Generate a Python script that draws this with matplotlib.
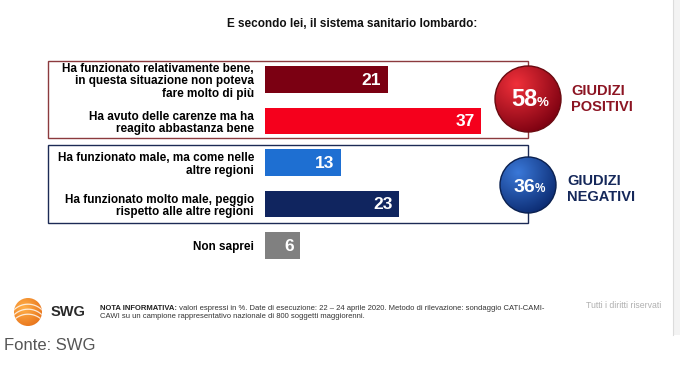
import numpy as np
import matplotlib
matplotlib.use("Agg")
import matplotlib.pyplot as plt
from matplotlib.patches import Circle, Rectangle
from matplotlib.colors import LinearSegmentedColormap

plt.rcParams["font.family"] = ["Liberation Sans", "DejaVu Sans"]

# dati
labels = [
    "Ha funzionato relativamente bene,\nin questa situazione non poteva\nfare molto di più",
    "Ha avuto delle carenze ma ha\nreagito abbastanza bene",
    "Ha funzionato male, ma come nelle\naltre regioni",
    "Ha funzionato molto male, peggio\nrispetto alle altre regioni",
    "Non saprei",
]
values = [21, 37, 13, 23, 6]
bar_colors = ["#7b0012", "#f5001c", "#1e6fd2", "#10255f", "#808080"]
group_totals = [58, 36]
group_names = ["GIUDIZI\nPOSITIVI", "GIUDIZI\nNEGATIVI"]

W, H = 680, 367
fig = plt.figure(figsize=(W / 100, H / 100), dpi=100)
fig.patch.set_facecolor("white")

# asse delle barre (pixel: x 265 -> 0, ~5.84 px per unità)
px_unit = 5.84
top_px, bot_px = 58.75, 266.25
ax = fig.add_axes([265 / W, (H - bot_px) / H, 40 * px_unit / W, (bot_px - top_px) / H])
ax.set_xlim(0, 40)
ax.set_ylim(len(values) - 0.5, -0.5)
ax.barh(range(len(values)), values, height=0.65, color=bar_colors, zorder=3)
for i, v in enumerate(values):
    ax.text(v - 1.1, i + 0.02, str(v), ha="right", va="center", color="white",
            fontsize=12.5, fontweight="bold", zorder=4)
ax.set_yticks(range(len(values)))
ax.set_yticklabels(labels, fontsize=8.5, fontweight="bold", linespacing=1.08)
ax.tick_params(axis="y", length=0, pad=8)
ax.set_xticks([])
for s in ax.spines.values():
    s.set_visible(False)
ax.patch.set_alpha(0)

# livello di disegno in pixel
ov = fig.add_axes([0, 0, 1, 1], zorder=5)
ov.set_xlim(0, W)
ov.set_ylim(H, 0)
ov.axis("off")
ov.patch.set_alpha(0)

# bordo pagina a destra
ov.add_patch(Rectangle((673, 0), 7, 335, facecolor="#f3f3f3", edgecolor="none"))
ov.plot([673, 673], [0, 335], color="#dcdcdc", lw=0.8)

ov.text(352, 24, "E secondo lei, il sistema sanitario lombardo:", ha="center", va="center",
        fontsize=8.5, fontweight="bold", color="#111111")

# riquadri dei gruppi
ov.add_patch(Rectangle((48, 61), 480, 77, facecolor="none", edgecolor="#8c3a3e", lw=1.0))
ov.add_patch(Rectangle((48, 145), 480, 78, facecolor="none", edgecolor="#1c2a55", lw=1.0))


def gradient_circle(cx, cy, r, light, dark, edge):
    cmap = LinearSegmentedColormap.from_list("g", [light, dark])
    yy, xx = np.mgrid[-1:1:200j, -1:1:200j]
    d = np.sqrt((xx + 0.35) ** 2 + (yy + 0.45) ** 2)
    im = ov.imshow(d, cmap=cmap, extent=(cx - r, cx + r, cy + r, cy - r),
                   vmin=0, vmax=1.6, zorder=6, interpolation="bilinear")
    c = Circle((cx, cy), r, facecolor="none", edgecolor=edge, lw=1.0, zorder=7)
    ov.add_patch(c)
    im.set_clip_path(c)


gradient_circle(528, 99, 33, "#f0303a", "#7a0010", "#6a0a10")
gradient_circle(528, 185, 28, "#3a78d8", "#0b2a70", "#0a2050")
ov.set_xlim(0, W)
ov.set_ylim(H, 0)

ov.text(537, 100, str(group_totals[0]), ha="right", va="center", color="white",
        fontsize=17, fontweight="bold", zorder=8)
ov.text(537, 103, "%", ha="left", va="center", color="white", fontsize=9.5, fontweight="bold", zorder=8)
ov.text(535, 187, str(group_totals[1]), ha="right", va="center", color="white",
        fontsize=14, fontweight="bold", zorder=8)
ov.text(535, 189, "%", ha="left", va="center", color="white", fontsize=8.5, fontweight="bold", zorder=8)

ov.text(571, 99, group_names[0], ha="left", va="center", color="#8c1422",
        fontsize=10.5, fontweight="bold", linespacing=1.1)
ov.text(567, 189, group_names[1], ha="left", va="center", color="#15285a",
        fontsize=10.5, fontweight="bold", linespacing=1.1)

# logo SWG
cmap_o = LinearSegmentedColormap.from_list("o", ["#ffb04a", "#e8731a"])
yy, xx = np.mgrid[-1:1:100j, -1:1:100j]
im = ov.imshow(np.sqrt((xx + 0.3) ** 2 + (yy + 0.3) ** 2), cmap=cmap_o, vmin=0, vmax=1.5,
               extent=(14, 42, 326, 298), zorder=6)
lc = Circle((28, 312), 14, facecolor="none", edgecolor="none")
ov.add_patch(lc)
im.set_clip_path(lc)
th = np.linspace(0, np.pi, 60)
for off in [-6, -1, 4]:
    ln, = ov.plot(28 + 20 * np.cos(th + 0.3), 330 + off - 22 * np.sin(th + 0.3) * 0.9,
                  color="white", lw=0.9, alpha=0.8, zorder=7)
    ln.set_clip_path(lc)
ov.set_xlim(0, W)
ov.set_ylim(H, 0)
ov.text(51, 312, "SWG", ha="left", va="center", fontsize=10.5, fontweight="bold", color="#2a2a2a")

nb = ov.text(100, 308, "NOTA INFORMATIVA:", ha="left", va="center", fontsize=5.5,
             fontweight="bold", color="#222222")
ov.annotate(" valori espressi in %. Date di esecuzione: 22 – 24 aprile 2020. Metodo di rilevazione: sondaggio CATI-CAMI-",
            xy=(1, 0.5), xycoords=nb, ha="left", va="center", fontsize=5.5, color="#333333")
ov.text(100, 317, "CAWI su un campione rappresentativo nazionale di 800 soggetti maggiorenni.",
        ha="left", va="center", fontsize=5.5, color="#333333")
ov.text(586, 306, "Tutti i diritti riservati", ha="left", va="center", fontsize=6.3, color="#b0b0b0")

ov.text(4, 346, "Fonte: SWG", ha="left", va="center", fontsize=12, color="#555555")

fig.savefig("out.png", dpi=100)
